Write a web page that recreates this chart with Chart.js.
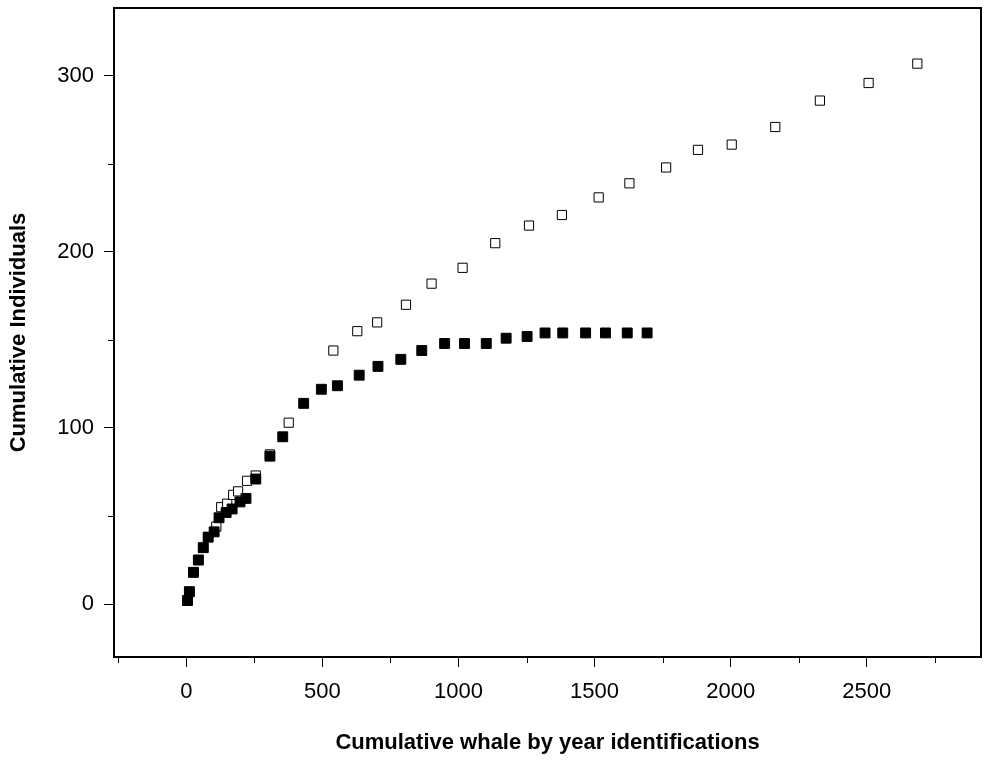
<!DOCTYPE html>
<html lang="en">
<head>
<meta charset="UTF-8">
<title>Cumulative individuals</title>
<script src="https://cdn.jsdelivr.net/npm/chart.js"></script>
<style>
  html, body { margin: 0; padding: 0; background: #fff; }
</style>
</head>
<body>
<canvas id="chart" width="989" height="762"></canvas>
<script>
// open squares (total)
const openX = [4, 11, 26, 44, 62, 80, 110, 128, 150, 172, 190, 223, 255, 307, 376, 540, 628, 701, 807, 901, 1015, 1135, 1259, 1380, 1515, 1628, 1763, 1880, 2004, 2164, 2328, 2507, 2686];
const openY = [2, 7, 18, 25, 32, 38, 44, 55, 57, 62, 64, 70, 73, 85, 103, 144, 155, 160, 170, 182, 191, 205, 215, 221, 231, 239, 248, 258, 261, 271, 286, 296, 307];
// filled squares
const fillX = [4, 11, 26, 44, 62, 80, 102, 120, 146, 168, 197, 219, 255, 307, 354, 431, 496, 555, 635, 704, 788, 865, 949, 1022, 1102, 1175, 1252, 1318, 1383, 1467, 1540, 1620, 1693];
const fillY = [2, 7, 18, 25, 32, 38, 41, 49, 52, 54, 58, 60, 71, 84, 95, 114, 122, 124, 130, 135, 139, 144, 148, 148, 148, 151, 152, 154, 154, 154, 154, 154, 154];

const xTicks = [-250, 0, 250, 500, 750, 1000, 1250, 1500, 1750, 2000, 2250, 2500, 2750];
const yTicks = [0, 50, 100, 150, 200, 250, 300];

const toPts = (xs, ys) => xs.map((x, i) => ({ x: x, y: ys[i] }));
const isMajorX = v => v % 500 === 0;
const isMajorY = v => v % 100 === 0;

// box round the plot and short minor ticks
const boxPlugin = {
  id: "box",
  afterDraw(chart) {
    const ctx = chart.ctx, a = chart.chartArea;
    ctx.save();
    ctx.strokeStyle = "#000";
    ctx.lineWidth = 2;
    ctx.strokeRect(a.left, a.top, a.right - a.left, a.bottom - a.top);
    ctx.lineWidth = 1;
    ctx.beginPath();
    xTicks.filter(v => !isMajorX(v)).forEach(v => {
      const px = Math.round(chart.scales.x.getPixelForValue(v)) + 0.5;
      ctx.moveTo(px, a.bottom);
      ctx.lineTo(px, a.bottom + 6);
    });
    yTicks.filter(v => !isMajorY(v)).forEach(v => {
      const py = Math.round(chart.scales.y.getPixelForValue(v)) + 0.5;
      ctx.moveTo(a.left, py);
      ctx.lineTo(a.left - 6, py);
    });
    ctx.stroke();
    ctx.restore();
  }
};

const font = { family: "Arial, 'Liberation Sans', sans-serif", size: 22 };
const titleFont = { family: "Arial, 'Liberation Sans', sans-serif", size: 22, weight: "bold" };

new Chart(document.getElementById("chart"), {
  type: "scatter",
  data: {
    datasets: [
      {
        label: "filled",
        data: toPts(fillX, fillY),
        pointStyle: "rect",
        radius: 7,
        hoverRadius: 7,
        backgroundColor: "#000",
        borderColor: "#000",
        borderWidth: 1
      },
      {
        label: "open",
        data: toPts(openX, openY),
        pointStyle: "rect",
        radius: 6.5,
        hoverRadius: 6.5,
        backgroundColor: "#fff",
        borderColor: "#000",
        borderWidth: 1
      }
    ]
  },
  plugins: [boxPlugin],
  options: {
    responsive: false,
    animation: false,
    devicePixelRatio: 1,
    layout: { padding: { top: 8, right: 5, left: 0, bottom: 0 } },
    plugins: { legend: { display: false }, tooltip: { enabled: false } },
    scales: {
      x: {
        type: "linear",
        min: -266,
        max: 2920,
        afterBuildTicks: s => { s.ticks = xTicks.map(v => ({ value: v })); },
        afterFit: s => { s.height = 105; s.paddingLeft = 0; s.paddingRight = 0; },
        grid: {
          drawOnChartArea: false,
          tickLength: 10,
          tickColor: c => isMajorX(c.tick.value) ? "#000" : "rgba(0,0,0,0)"
        },
        border: { display: false },
        ticks: {
          color: "#000",
          font: font,
          padding: 12,
          maxRotation: 0,
          autoSkip: false,
          callback: v => isMajorX(v) ? String(v) : ""
        },
        title: {
          display: true,
          text: "Cumulative whale by year identifications",
          color: "#000",
          font: titleFont,
          padding: { top: 0, bottom: 6 }
        }
      },
      y: {
        type: "linear",
        min: -30.1,
        max: 338.6,
        afterBuildTicks: s => { s.ticks = yTicks.map(v => ({ value: v })); },
        afterFit: s => { s.width = 114; s.paddingTop = 0; s.paddingBottom = 0; },
        grid: {
          drawOnChartArea: false,
          tickLength: 10,
          tickColor: c => isMajorY(c.tick.value) ? "#000" : "rgba(0,0,0,0)"
        },
        border: { display: false },
        ticks: {
          color: "#000",
          font: font,
          padding: 10,
          autoSkip: false,
          callback: v => isMajorY(v) ? String(v) : ""
        },
        title: {
          display: true,
          text: "Cumulative Individuals",
          color: "#000",
          font: titleFont,
          padding: { top: 6, bottom: 0 }
        }
      }
    }
  }
});
</script>
</body>
</html>
